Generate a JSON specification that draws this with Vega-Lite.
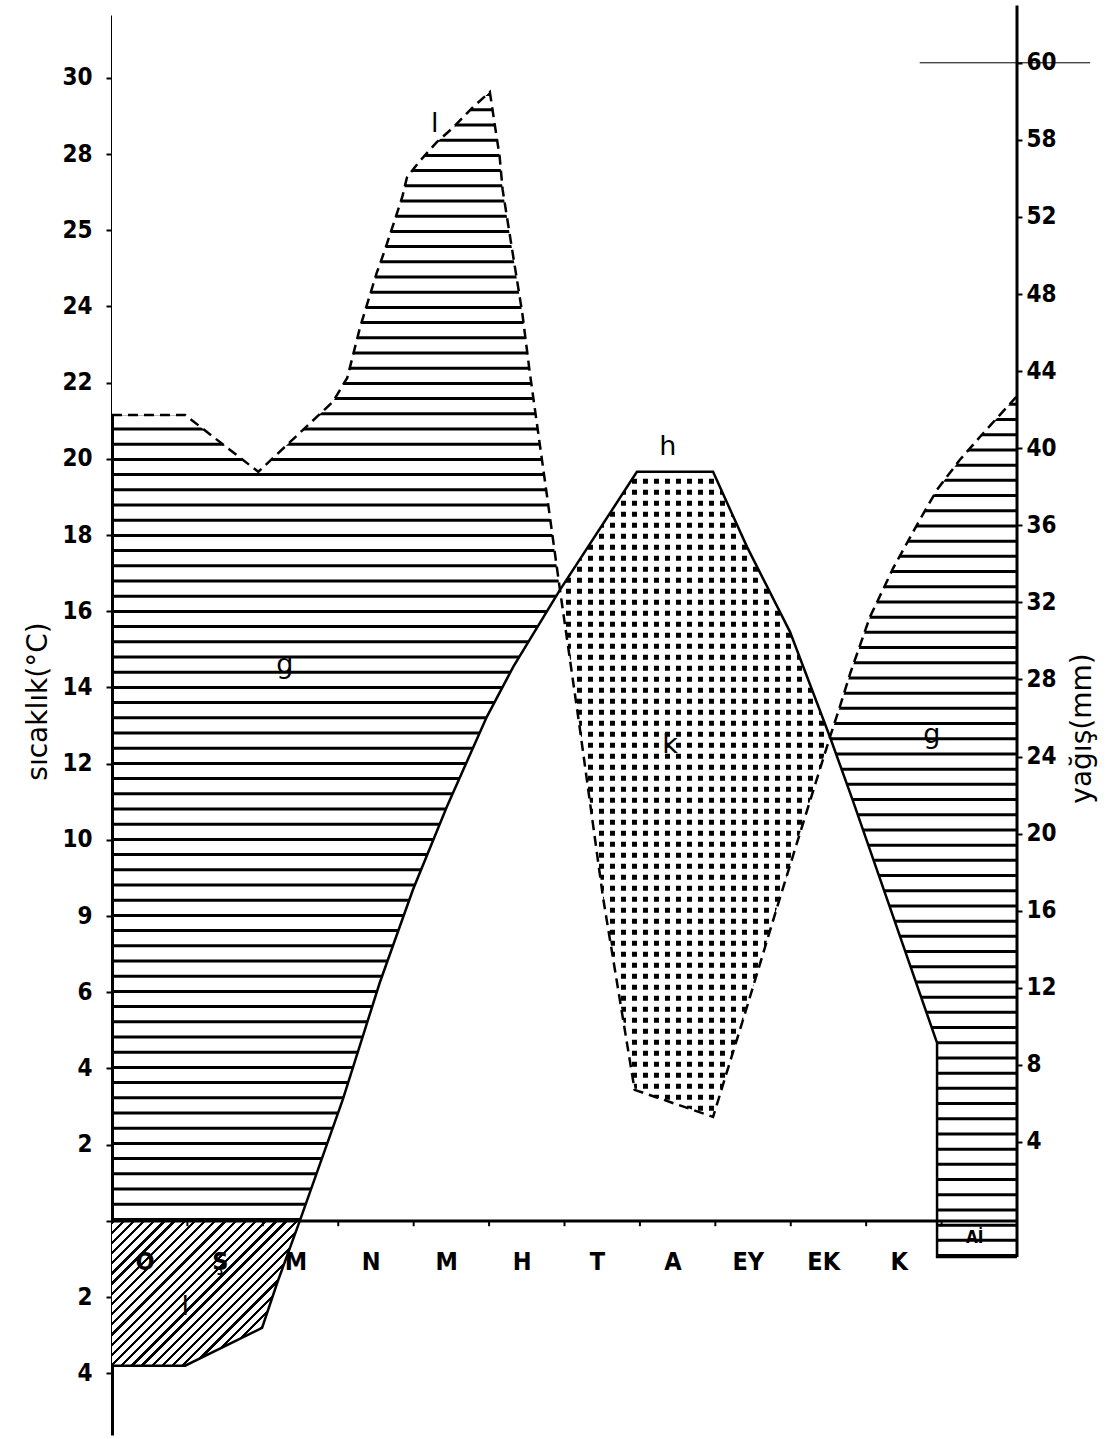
{
"$schema": "https://vega.github.io/schema/vega-lite/v6.json",
"width": 905,
"height": 1420,
"autosize": {"type": "none"},
"padding": {"left": 112, "top": 15, "right": 90, "bottom": 4},
"background": "white",
"config": {
  "view": {"stroke": null},
  "axis": {"grid": false, "domainColor": "black", "tickColor": "black", "labelColor": "black", "titleColor": "black", "labelFont": "DejaVu Sans Condensed", "labelFontWeight": "bold", "titleFont": "DejaVu Sans", "titleFontWeight": "normal", "zindex": 1, "labelFlush": false},
  "text": {"font": "DejaVu Sans Condensed", "color": "black"}
},
"datasets": {
  "temp": [
    {"i":1,"ay":0,"v":-3.8},{"i":2,"ay":0.97,"v":-3.8},{"i":3,"ay":1.99,"v":-2.81},{"i":4,"ay":2.19,"v":-1.63},
    {"i":5,"ay":2.49,"v":0},{"i":6,"ay":3.06,"v":3.18},{"i":7,"ay":3.55,"v":6.25},{"i":8,"ay":3.99,"v":8.69},
    {"i":9,"ay":4.44,"v":10.87},{"i":10,"ay":4.97,"v":13.23},{"i":11,"ay":5.32,"v":14.54},{"i":12,"ay":5.94,"v":16.56},
    {"i":13,"ay":6.96,"v":19.66},{"i":14,"ay":7.97,"v":19.66},{"i":15,"ay":8.42,"v":17.69},{"i":16,"ay":8.99,"v":15.46},
    {"i":17,"ay":9.52,"v":12.7},{"i":18,"ay":9.82,"v":11.05},{"i":19,"ay":10.94,"v":4.67},{"i":20,"ay":10.94,"v":-0.95},
    {"i":21,"ay":12,"v":-0.95}
  ],
  "precip": [
    {"i":1,"ay":0,"v":21.15},{"i":2,"ay":0.97,"v":21.15},{"i":3,"ay":1.94,"v":19.66},{"i":4,"ay":2.93,"v":21.5},
    {"i":5,"ay":3.12,"v":22.13},{"i":6,"ay":3.29,"v":23.46},{"i":7,"ay":3.51,"v":24.88},{"i":8,"ay":3.62,"v":25.49},
    {"i":9,"ay":3.85,"v":26.88},{"i":10,"ay":3.91,"v":27.38},{"i":11,"ay":4.06,"v":27.77},{"i":12,"ay":4.31,"v":28.32},
    {"i":13,"ay":4.52,"v":28.69},{"i":14,"ay":4.79,"v":29.24},{"i":15,"ay":5.01,"v":29.63},{"i":16,"ay":5.08,"v":28.71},
    {"i":17,"ay":5.14,"v":27.93},{"i":18,"ay":5.18,"v":27.06},{"i":19,"ay":5.3,"v":25.56},{"i":20,"ay":5.44,"v":23.83},
    {"i":21,"ay":5.54,"v":22.26},{"i":22,"ay":5.77,"v":19.0},{"i":23,"ay":5.94,"v":16.56},{"i":24,"ay":6.2,"v":12.97},
    {"i":25,"ay":6.51,"v":8.5},{"i":26,"ay":6.93,"v":3.44},{"i":27,"ay":7.97,"v":2.73},{"i":28,"ay":8.42,"v":5.62},
    {"i":29,"ay":8.86,"v":8.5},{"i":30,"ay":9.26,"v":11.05},{"i":31,"ay":9.52,"v":12.7},{"i":32,"ay":9.65,"v":13.49},
    {"i":33,"ay":9.79,"v":14.38},{"i":34,"ay":10.05,"v":15.85},{"i":35,"ay":10.36,"v":17.14},{"i":36,"ay":10.71,"v":18.4},
    {"i":37,"ay":10.94,"v":19.19},{"i":38,"ay":11.24,"v":19.97},{"i":39,"ay":11.51,"v":20.58},{"i":40,"ay":12,"v":21.65}
  ],
  "upper": [
    {"ay":0,"v":21.15},{"ay":0.97,"v":21.15},{"ay":1.94,"v":19.66},{"ay":2.93,"v":21.5},
    {"ay":3.12,"v":22.13},{"ay":3.29,"v":23.46},{"ay":3.51,"v":24.88},{"ay":3.62,"v":25.49},
    {"ay":3.85,"v":26.88},{"ay":3.91,"v":27.38},{"ay":4.06,"v":27.77},{"ay":4.31,"v":28.32},
    {"ay":4.52,"v":28.69},{"ay":4.79,"v":29.24},{"ay":5.01,"v":29.63},{"ay":5.08,"v":28.71},
    {"ay":5.14,"v":27.93},{"ay":5.18,"v":27.06},{"ay":5.3,"v":25.56},{"ay":5.44,"v":23.83},
    {"ay":5.54,"v":22.26},{"ay":5.77,"v":19.0},{"ay":5.94,"v":16.56},
    {"ay":6.96,"v":19.66},{"ay":7.97,"v":19.66},{"ay":8.42,"v":17.69},{"ay":8.99,"v":15.46},{"ay":9.52,"v":12.7},
    {"ay":9.65,"v":13.49},{"ay":9.79,"v":14.38},{"ay":10.05,"v":15.85},{"ay":10.36,"v":17.14},{"ay":10.71,"v":18.4},
    {"ay":10.94,"v":19.19},{"ay":11.24,"v":19.97},{"ay":11.51,"v":20.58},{"ay":12,"v":21.65}
  ],
  "lower": [
    {"ay":2.49,"v":0},{"ay":3.06,"v":3.18},{"ay":3.55,"v":6.25},{"ay":3.99,"v":8.69},{"ay":4.44,"v":10.87},
    {"ay":4.97,"v":13.23},{"ay":5.32,"v":14.54},{"ay":5.94,"v":16.56},
    {"ay":6.2,"v":12.97},{"ay":6.51,"v":8.5},{"ay":6.93,"v":3.44},{"ay":7.97,"v":2.73},{"ay":8.42,"v":5.62},
    {"ay":8.86,"v":8.5},{"ay":9.26,"v":11.05},{"ay":9.52,"v":12.7},
    {"ay":9.82,"v":11.05},{"ay":10.94,"v":4.67}
  ],
  "frost": [
    {"ay":0,"v":-3.8},{"ay":0.97,"v":-3.8},{"ay":1.99,"v":-2.81},{"ay":2.19,"v":-1.63},{"ay":2.49,"v":0}
  ],
  "bounds": [{"ay":1},{"ay":2},{"ay":3},{"ay":4},{"ay":5},{"ay":6},{"ay":7},{"ay":8},{"ay":9},{"ay":10},{"ay":11}],
  "months": [
    {"ay":0,"ad":"O"},{"ay":1,"ad":"Ş"},{"ay":2,"ad":"M"},{"ay":3,"ad":"N"},{"ay":4,"ad":"M"},{"ay":5,"ad":"H"},
    {"ay":6,"ad":"T"},{"ay":7,"ad":"A"},{"ay":8,"ad":"EY"},{"ay":9,"ad":"EK"},{"ay":10,"ad":"K"}
  ],
  "notes": [
    {"ay":2.29,"v":14.6,"t":"g"},{"ay":10.87,"v":12.76,"t":"g"},{"ay":7.37,"v":20.3,"t":"h"},
    {"ay":7.4,"v":12.5,"t":"k"},{"ay":4.28,"v":28.8,"t":"l"},{"ay":0.97,"v":-2.26,"t":"l"}
  ],
  "small": [{"ay":11.44,"v":-0.45,"t":"Aİ"}]
},
"layer": [
  {"layer": [
    {"data": {"name": "upper"},
     "mark": {"type": "area", "fill": "white", "opacity": 0, "strokeWidth": 0},
     "encoding": {
       "x": {"field": "ay", "type": "quantitative", "scale": {"domain": [0, 12], "nice": false, "zero": false},
             "axis": {"labels": false, "ticks": false, "domain": false, "title": null}},
       "y": {"field": "v", "type": "quantitative", "scale": {"domain": [-5.62, 31.65], "nice": false, "zero": false},
             "axis": {"values": [-4,-2,0,2,4,6,8,10,12,14,16,18,20,22,24,26,28,30],
                      "labelExpr": "datum.value==26?'25':datum.value==8?'9':datum.value==0?'':''+abs(datum.value)",
                      "tickSize": 6, "tickWidth": 2, "domainWidth": 3, "labelPadding": 14, "labelFontSize": 24,
                      "title": "sıcaklık(°C)", "titleFontSize": 28, "titleAngle": -90, "titleX": -74, "titleY": 686,
                      "titleAlign": "center", "titleBaseline": "middle"}},
       "y2": {"datum": 31.65}}},
    {"data": {"values": [{}]},
     "mark": {"type": "rule", "stroke": "black", "strokeWidth": 448, "strokeDash": [3, 12.2]},
     "encoding": {"x": {"datum": 2.97, "type": "quantitative", "scale": {"domain": [0, 12], "nice": false, "zero": false}},
                  "y": {"datum": 0, "type": "quantitative", "scale": {"domain": [-5.62, 31.65], "nice": false, "zero": false}},
                  "y2": {"datum": 29.7}}},
    {"data": {"values": [{}]},
     "mark": {"type": "rule", "stroke": "black", "strokeWidth": 187, "strokeDash": [3, 12.2]},
     "encoding": {"x": {"datum": 10.76, "type": "quantitative", "scale": {"domain": [0, 12], "nice": false, "zero": false}},
                  "y": {"datum": -0.95, "type": "quantitative", "scale": {"domain": [-5.62, 31.65], "nice": false, "zero": false}},
                  "y2": {"datum": 21.7}}},
    {"data": {"values": [{}]},
     "mark": {"type": "rule", "stroke": "black", "strokeWidth": 270, "strokeDash": [5, 6]},
     "encoding": {"x": {"datum": 7.73, "type": "quantitative", "scale": {"domain": [0, 12], "nice": false, "zero": false}},
                  "y": {"datum": 2.6, "type": "quantitative", "scale": {"domain": [-5.62, 31.65], "nice": false, "zero": false}},
                  "y2": {"datum": 19.7}}},
    {"data": {"values": [{}]},
     "mark": {"type": "rule", "stroke": "white", "strokeWidth": 652, "strokeDash": [6, 5]},
     "encoding": {"y": {"datum": 11.15, "type": "quantitative", "scale": {"domain": [-5.62, 31.65], "nice": false, "zero": false}},
                  "x": {"datum": 5.94, "type": "quantitative", "scale": {"domain": [0, 12], "nice": false, "zero": false}},
                  "x2": {"datum": 9.52}}},
    {"data": {"name": "upper"},
     "mark": {"type": "area", "fill": "white", "opacity": 1, "strokeWidth": 0},
     "encoding": {
       "x": {"field": "ay", "type": "quantitative", "scale": {"domain": [0, 12], "nice": false, "zero": false}},
       "y": {"field": "v", "type": "quantitative", "scale": {"domain": [-5.62, 31.65], "nice": false, "zero": false}},
       "y2": {"datum": 31.65}}},
    {"data": {"name": "lower"},
     "mark": {"type": "area", "fill": "white", "opacity": 1, "strokeWidth": 0},
     "encoding": {
       "x": {"field": "ay", "type": "quantitative", "scale": {"domain": [0, 12], "nice": false, "zero": false}},
       "y": {"field": "v", "type": "quantitative", "scale": {"domain": [-5.62, 31.65], "nice": false, "zero": false}},
       "y2": {"datum": -0.95}}},
    {"data": {"name": "frost"},
     "mark": {"type": "area", "opacity": 1, "strokeWidth": 0,
       "fill": {"gradient": "linear", "x1": 0, "y1": 0, "x2": 1, "y2": 0.771, "stops": [
         {"offset":0,"color":"#000"},{"offset":0.011,"color":"#000"},{"offset":0.011,"color":"#fff"},
         {"offset":0.034,"color":"#fff"},{"offset":0.034,"color":"#000"},{"offset":0.045,"color":"#000"},{"offset":0.045,"color":"#fff"},
         {"offset":0.068,"color":"#fff"},{"offset":0.068,"color":"#000"},{"offset":0.079,"color":"#000"},{"offset":0.079,"color":"#fff"},
         {"offset":0.102,"color":"#fff"},{"offset":0.102,"color":"#000"},{"offset":0.113,"color":"#000"},{"offset":0.113,"color":"#fff"},
         {"offset":0.136,"color":"#fff"},{"offset":0.136,"color":"#000"},{"offset":0.147,"color":"#000"},{"offset":0.147,"color":"#fff"},
         {"offset":0.17,"color":"#fff"},{"offset":0.17,"color":"#000"},{"offset":0.181,"color":"#000"},{"offset":0.181,"color":"#fff"},
         {"offset":0.204,"color":"#fff"},{"offset":0.204,"color":"#000"},{"offset":0.215,"color":"#000"},{"offset":0.215,"color":"#fff"},
         {"offset":0.238,"color":"#fff"},{"offset":0.238,"color":"#000"},{"offset":0.249,"color":"#000"},{"offset":0.249,"color":"#fff"},
         {"offset":0.272,"color":"#fff"},{"offset":0.272,"color":"#000"},{"offset":0.283,"color":"#000"},{"offset":0.283,"color":"#fff"},
         {"offset":0.306,"color":"#fff"},{"offset":0.306,"color":"#000"},{"offset":0.317,"color":"#000"},{"offset":0.317,"color":"#fff"},
         {"offset":0.34,"color":"#fff"},{"offset":0.34,"color":"#000"},{"offset":0.351,"color":"#000"},{"offset":0.351,"color":"#fff"},
         {"offset":0.374,"color":"#fff"},{"offset":0.374,"color":"#000"},{"offset":0.385,"color":"#000"},{"offset":0.385,"color":"#fff"},
         {"offset":0.408,"color":"#fff"},{"offset":0.408,"color":"#000"},{"offset":0.419,"color":"#000"},{"offset":0.419,"color":"#fff"},
         {"offset":0.442,"color":"#fff"},{"offset":0.442,"color":"#000"},{"offset":0.453,"color":"#000"},{"offset":0.453,"color":"#fff"},
         {"offset":0.476,"color":"#fff"},{"offset":0.476,"color":"#000"},{"offset":0.487,"color":"#000"},{"offset":0.487,"color":"#fff"},
         {"offset":0.51,"color":"#fff"},{"offset":0.51,"color":"#000"},{"offset":0.521,"color":"#000"},{"offset":0.521,"color":"#fff"},
         {"offset":0.544,"color":"#fff"},{"offset":0.544,"color":"#000"},{"offset":0.555,"color":"#000"},{"offset":0.555,"color":"#fff"},
         {"offset":0.578,"color":"#fff"},{"offset":0.578,"color":"#000"},{"offset":0.589,"color":"#000"},{"offset":0.589,"color":"#fff"},
         {"offset":0.612,"color":"#fff"},{"offset":0.612,"color":"#000"},{"offset":0.623,"color":"#000"},{"offset":0.623,"color":"#fff"},
         {"offset":0.646,"color":"#fff"},{"offset":0.646,"color":"#000"},{"offset":0.657,"color":"#000"},{"offset":0.657,"color":"#fff"},
         {"offset":0.68,"color":"#fff"},{"offset":0.68,"color":"#000"},{"offset":0.691,"color":"#000"},{"offset":0.691,"color":"#fff"},
         {"offset":0.714,"color":"#fff"},{"offset":0.714,"color":"#000"},{"offset":0.725,"color":"#000"},{"offset":0.725,"color":"#fff"},
         {"offset":0.748,"color":"#fff"},{"offset":0.748,"color":"#000"},{"offset":0.759,"color":"#000"},{"offset":0.759,"color":"#fff"},
         {"offset":0.782,"color":"#fff"},{"offset":0.782,"color":"#000"},{"offset":0.793,"color":"#000"},{"offset":0.793,"color":"#fff"},
         {"offset":0.816,"color":"#fff"},{"offset":0.816,"color":"#000"},{"offset":0.827,"color":"#000"},{"offset":0.827,"color":"#fff"},
         {"offset":0.85,"color":"#fff"},{"offset":0.85,"color":"#000"},{"offset":0.861,"color":"#000"},{"offset":0.861,"color":"#fff"},
         {"offset":0.884,"color":"#fff"},{"offset":0.884,"color":"#000"},{"offset":0.895,"color":"#000"},{"offset":0.895,"color":"#fff"}
       ]}},
     "encoding": {
       "x": {"field": "ay", "type": "quantitative", "scale": {"domain": [0, 12], "nice": false, "zero": false}},
       "y": {"field": "v", "type": "quantitative", "scale": {"domain": [-5.62, 31.65], "nice": false, "zero": false}},
       "y2": {"datum": 0}}},
    {"data": {"values": [{}]},
     "mark": {"type": "rule", "stroke": "black", "strokeWidth": 3},
     "encoding": {"y": {"datum": 0, "type": "quantitative", "scale": {"domain": [-5.62, 31.65], "nice": false, "zero": false}},
                  "x": {"datum": 0, "type": "quantitative", "scale": {"domain": [0, 12], "nice": false, "zero": false}},
                  "x2": {"datum": 12}}},
    {"data": {"name": "bounds"},
     "mark": {"type": "rule", "stroke": "black", "strokeWidth": 2},
     "encoding": {"x": {"field": "ay", "type": "quantitative", "scale": {"domain": [0, 12], "nice": false, "zero": false}},
                  "y": {"datum": 0, "type": "quantitative", "scale": {"domain": [-5.62, 31.65], "nice": false, "zero": false}},
                  "y2": {"datum": -0.14}}},
    {"data": {"name": "temp"},
     "mark": {"type": "line", "stroke": "black", "strokeWidth": 2.5},
     "encoding": {
       "x": {"field": "ay", "type": "quantitative", "scale": {"domain": [0, 12], "nice": false, "zero": false}},
       "y": {"field": "v", "type": "quantitative", "scale": {"domain": [-5.62, 31.65], "nice": false, "zero": false}},
       "order": {"field": "i", "type": "quantitative"}}},
    {"data": {"name": "precip"},
     "mark": {"type": "line", "stroke": "black", "strokeWidth": 2.5, "strokeDash": [10, 6]},
     "encoding": {
       "x": {"field": "ay", "type": "quantitative", "scale": {"domain": [0, 12], "nice": false, "zero": false}},
       "y": {"field": "v", "type": "quantitative", "scale": {"domain": [-5.62, 31.65], "nice": false, "zero": false}},
       "order": {"field": "i", "type": "quantitative"}}},
    {"data": {"values": [{}]},
     "mark": {"type": "rule", "stroke": "black", "strokeWidth": 3},
     "encoding": {"x": {"datum": 12, "type": "quantitative", "scale": {"domain": [0, 12], "nice": false, "zero": false}},
                  "y": {"datum": -0.95, "type": "quantitative", "scale": {"domain": [-5.62, 31.65], "nice": false, "zero": false}},
                  "y2": {"datum": 31.9}}},
    {"data": {"name": "months"},
     "mark": {"type": "text", "fontSize": 25, "fontWeight": "bold", "dx": 33, "align": "center", "baseline": "middle"},
     "encoding": {
       "x": {"field": "ay", "type": "quantitative", "scale": {"domain": [0, 12], "nice": false, "zero": false}},
       "y": {"datum": -1.08, "type": "quantitative", "scale": {"domain": [-5.62, 31.65], "nice": false, "zero": false}},
       "text": {"field": "ad"}}},
    {"data": {"name": "notes"},
     "mark": {"type": "text", "fontSize": 27, "align": "center", "baseline": "middle", "font": "DejaVu Sans"},
     "encoding": {
       "x": {"field": "ay", "type": "quantitative", "scale": {"domain": [0, 12], "nice": false, "zero": false}},
       "y": {"field": "v", "type": "quantitative", "scale": {"domain": [-5.62, 31.65], "nice": false, "zero": false}},
       "text": {"field": "t"}}},
    {"data": {"name": "small"},
     "mark": {"type": "text", "fontSize": 17, "fontWeight": "bold", "align": "center", "baseline": "middle"},
     "encoding": {
       "x": {"field": "ay", "type": "quantitative", "scale": {"domain": [0, 12], "nice": false, "zero": false}},
       "y": {"field": "v", "type": "quantitative", "scale": {"domain": [-5.62, 31.65], "nice": false, "zero": false}},
       "text": {"field": "t"}}}
  ]},
  {"data": {"values": [{}]},
   "mark": {"type": "rule", "stroke": "black", "strokeWidth": 1},
   "encoding": {
     "x": {"datum": 10.71, "type": "quantitative", "scale": {"domain": [0, 12], "nice": false, "zero": false}},
     "x2": {"datum": 12.97},
     "y": {"datum": 60, "type": "quantitative", "scale": {"domain": [-11.21, 62.48], "nice": false, "zero": false},
           "axis": {"orient": "right", "values": [4,8,12,16,20,24,28,32,36,40,44,48,52,56,60],
                    "labelExpr": "datum.value==56?'58':datum.label", "domain": false, "tickSize": 5, "tickWidth": 2,
                    "labelPadding": 4, "labelFontSize": 24, "title": "yağış(mm)", "titleFontSize": 28,
                    "titleAngle": -90, "titleX": 65, "titleY": 713, "titleAlign": "center", "titleBaseline": "middle"}}}}
],
"resolve": {"scale": {"y": "independent"}}
}
